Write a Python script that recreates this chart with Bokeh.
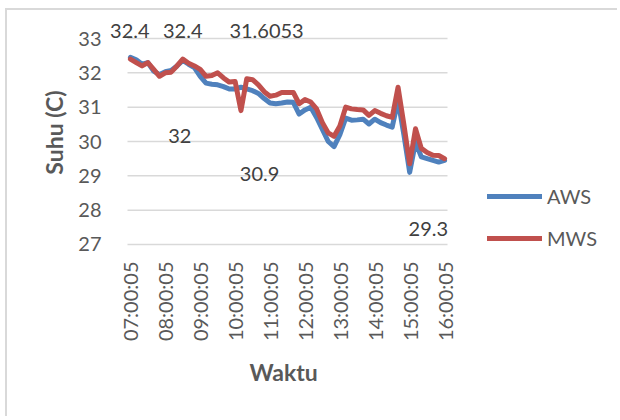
import math
from bokeh.plotting import figure
from bokeh.models import ColumnDataSource, Legend, LegendItem, FixedTicker, Title
from bokeh.core.properties import value
from bokeh.embed import file_html
from bokeh.resources import INLINE

# Category labels: 10-minute readings from 07:00:05 to 16:00:05
times = ["%02d:%02d:05" % (7 + k // 6, (k % 6) * 10) for k in range(55)]

aws = [32.45, 32.38, 32.25, 32.30, 32.05, 31.95, 32.03, 32.07, 32.20, 32.36,
       32.25, 32.15, 31.90, 31.70, 31.67, 31.65, 31.60, 31.53, 31.53, 31.58,
       31.53, 31.48, 31.40, 31.25, 31.12, 31.10, 31.12, 31.15, 31.14, 30.80,
       30.92, 31.00, 30.70, 30.35, 30.00, 29.85, 30.20, 30.68, 30.62, 30.63,
       30.65, 30.51, 30.65, 30.55, 30.48, 30.42, 31.20, 30.20, 29.10, 29.98,
       29.55, 29.50, 29.45, 29.40, 29.45]

mws = [32.40, 32.30, 32.20, 32.30, 32.10, 31.90, 32.00, 32.02, 32.20, 32.40,
       32.28, 32.20, 32.10, 31.90, 31.92, 32.00, 31.85, 31.73, 31.75, 30.90,
       31.83, 31.80, 31.65, 31.45, 31.32, 31.35, 31.43, 31.43, 31.43, 31.10,
       31.22, 31.15, 30.95, 30.55, 30.25, 30.15, 30.45, 31.00, 30.95, 30.93,
       30.92, 30.76, 30.90, 30.82, 30.75, 30.70, 31.58, 30.50, 29.35, 30.37,
       29.80, 29.68, 29.60, 29.59, 29.50]

y_ticks = [27, 28, 29, 30, 31, 32, 33]
tick_idx = list(range(0, 55, 6))

# Floating data labels (text, category index, value)
label_texts = ["32.4", "32.4", "31.6053", "32", "30.9", "29.3"]
label_idx = [-0.1, 9.0, 23.4, 8.5, 22.2, 51.2]
label_val = [33.23, 33.23, 33.23, 30.17, 29.06, 27.46]

FONT = "Lato"
TXT = "#595959"
GRID = "#D9D9D9"

X0, X1 = -0.5, 54.5
Y0, Y1 = 27, 33
# frame is extended left/right (labels, legend) and up (labels)
PXX, PXY = 5.818, 34.33
EXT_L = 22
x_start = X0 - EXT_L / PXX
x_end = X1 + 168 / PXX
y_end = Y1 + 24 / PXY
y_start = Y0 - 6 / PXY

p = figure(width=612, height=408, x_range=(x_start, x_end), y_range=(y_start, y_end),
           output_backend="svg", toolbar_location=None,
           min_border_left=120 - EXT_L, min_border_right=4, min_border_top=4,
           min_border_bottom=168)
p.styles = {"margin-left": "5px", "margin-top": "8px",
            "border-left": "2px solid " + GRID, "border-top": "2px solid " + GRID}
p.outline_line_color = None
p.background_fill_color = "white"
p.xgrid.grid_line_color = None
p.ygrid.grid_line_color = None

# horizontal gridlines over the plot area only
p.segment(x0=[X0] * len(y_ticks), x1=[X1] * len(y_ticks), y0=y_ticks, y1=y_ticks,
          line_color=GRID, line_width=1.5)

src = ColumnDataSource(dict(x=list(range(len(times))), aws=aws, mws=mws))
r_aws = p.line("x", "aws", source=src, line_color="#4F81BD", line_width=5,
               line_join="round", line_cap="round")
r_mws = p.line("x", "mws", source=src, line_color="#C0504D", line_width=5,
               line_join="round", line_cap="round")

# y axis
p.yaxis.bounds = (Y0, Y1)
p.yaxis.ticker = FixedTicker(ticks=y_ticks)
p.yaxis.axis_line_color = None
p.yaxis.major_tick_line_color = None
p.yaxis.minor_tick_line_color = None
p.yaxis.major_tick_out = 0
p.yaxis.major_label_standoff = 26 - EXT_L
p.yaxis.major_label_text_font = FONT
p.yaxis.major_label_text_font_size = "20px"
p.yaxis.major_label_text_color = TXT
p.yaxis.axis_label = "Suhu (C)"
p.yaxis.axis_label_text_font = FONT
p.yaxis.axis_label_text_font_size = "23px"
p.yaxis.axis_label_text_font_style = "bold"
p.yaxis.axis_label_text_color = TXT
p.yaxis.axis_label_standoff = 7

# x axis
p.xaxis.bounds = (X0, X1)
p.xaxis.ticker = FixedTicker(ticks=tick_idx)
p.xaxis.major_label_overrides = {i: times[i] for i in tick_idx}
p.xaxis.major_label_orientation = math.pi / 2
p.xaxis.axis_line_color = None
p.xaxis.major_tick_line_color = None
p.xaxis.minor_tick_line_color = None
p.xaxis.major_tick_out = 0
p.xaxis.major_label_standoff = 11
p.xaxis.major_label_text_font = FONT
p.xaxis.major_label_text_font_size = "20px"
p.xaxis.major_label_text_color = TXT

# x axis title, centred under the plot area
p.add_layout(Title(text="Waktu", align="left", offset=144, standoff=23,
                   text_font=FONT, text_font_size="23px", text_font_style="bold",
                   text_color=TXT), "below")

# floating labels
lsrc = ColumnDataSource(dict(x=label_idx, y=label_val, t=label_texts))
p.text("x", "y", text="t", source=lsrc, text_font=value(FONT),
       text_font_size="20px", text_color="#404040", text_align="center",
       text_baseline="alphabetic")

legend = Legend(items=[LegendItem(label="AWS", renderers=[r_aws]),
                       LegendItem(label="MWS", renderers=[r_mws])],
                location=(360 + EXT_L, 0), orientation="vertical")
legend.background_fill_alpha = 0
legend.border_line_color = None
legend.padding = 0
legend.margin = 0
legend.spacing = 18
legend.glyph_width = 55
legend.glyph_height = 20
legend.label_height = 20
legend.label_standoff = 5
legend.label_text_font = FONT
legend.label_text_font_size = "20px"
legend.label_text_color = TXT
p.add_layout(legend, "center")

open("out.html", "w").write(file_html(p, INLINE))
